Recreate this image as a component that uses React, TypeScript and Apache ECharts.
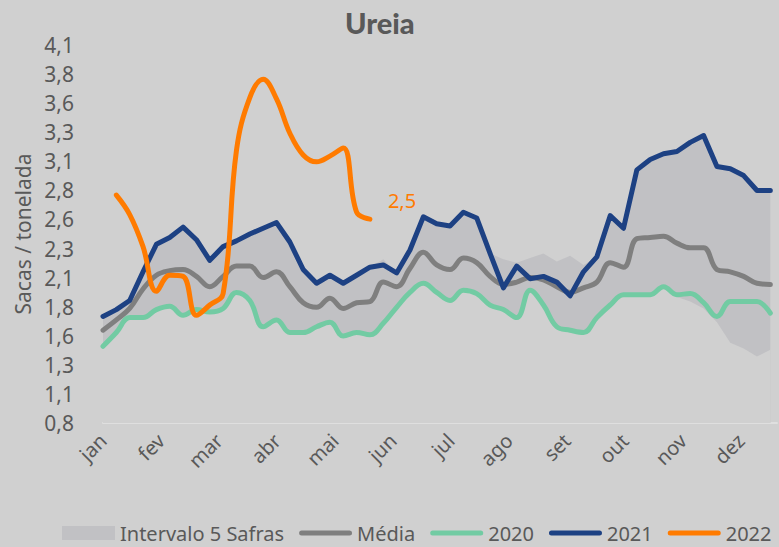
import React, { useEffect, useRef } from "react";
import * as echarts from "echarts";

const months = ["jan", "fev", "mar", "abr", "mai", "jun", "jul", "ago", "set", "out", "nov", "dez"];

const media = [1.61, 1.70, 1.80, 1.97, 2.09, 2.13, 2.14, 2.08, 1.99, 2.08, 2.17, 2.17, 2.07, 2.12, 1.99, 1.85, 1.81, 1.89, 1.80, 1.85, 1.86, 2.03, 1.99, 2.15, 2.29, 2.18, 2.14, 2.24, 2.20, 2.08, 2.01, 2.03, 2.07, 2.05, 1.99, 1.94, 1.98, 2.03, 2.20, 2.16, 2.41, 2.42, 2.43, 2.37, 2.33, 2.33, 2.14, 2.12, 2.08, 2.02, 2.01];

const s2020 = [1.47, 1.59, 1.72, 1.72, 1.79, 1.82, 1.74, 1.79, 1.77, 1.80, 1.94, 1.87, 1.64, 1.70, 1.59, 1.59, 1.64, 1.68, 1.56, 1.59, 1.57, 1.67, 1.81, 1.94, 2.02, 1.94, 1.87, 1.96, 1.93, 1.83, 1.79, 1.72, 1.96, 1.83, 1.64, 1.61, 1.59, 1.72, 1.83, 1.92, 1.92, 1.92, 1.99, 1.92, 1.93, 1.85, 1.73, 1.86, 1.86, 1.86, 1.76];

const s2021 = [1.73, 1.79, 1.87, 2.12, 2.36, 2.42, 2.51, 2.40, 2.22, 2.34, 2.39, 2.45, 2.50, 2.55, 2.38, 2.14, 2.02, 2.09, 2.02, 2.09, 2.16, 2.18, 2.11, 2.31, 2.60, 2.54, 2.52, 2.64, 2.59, 2.28, 1.98, 2.17, 2.06, 2.08, 2.03, 1.91, 2.12, 2.25, 2.61, 2.50, 3.01, 3.10, 3.15, 3.17, 3.25, 3.31, 3.04, 3.02, 2.96, 2.83, 2.83];

const s2022Start = 1;
const s2022 = [2.79, 2.62, 2.34, 1.95, 2.09, 2.08, 1.74, 1.83, 1.93, 3.18, 3.64, 3.80, 3.63, 3.33, 3.14, 3.08, 3.13, 3.20, 2.64, 2.58];

const bandMax = [1.73, 1.79, 1.87, 2.12, 2.36, 2.42, 2.51, 2.40, 2.22, 2.34, 2.39, 2.45, 2.50, 2.55, 2.38, 2.14, 2.02, 2.09, 2.02, 2.09, 2.16, 2.23, 2.11, 2.31, 2.60, 2.54, 2.52, 2.64, 2.59, 2.28, 2.23, 2.20, 2.24, 2.28, 2.21, 2.26, 2.18, 2.25, 2.61, 2.50, 3.01, 3.10, 3.15, 3.17, 3.25, 3.31, 3.04, 3.02, 2.96, 2.83, 2.83];

const bandMin = [1.47, 1.59, 1.72, 1.72, 1.79, 1.82, 1.74, 1.79, 1.77, 1.80, 1.94, 1.87, 1.64, 1.70, 1.59, 1.59, 1.64, 1.68, 1.56, 1.59, 1.57, 1.67, 1.81, 1.94, 2.02, 1.94, 1.87, 1.96, 1.93, 1.83, 1.79, 1.72, 1.96, 1.83, 1.64, 1.61, 1.59, 1.72, 1.83, 1.92, 1.92, 1.92, 1.99, 1.90, 1.86, 1.80, 1.68, 1.50, 1.45, 1.38, 1.44];

const Y_MIN = 0.8;
const Y_TOP = 4.1;
const Y_STEPS = 13;
const WEEKS_PER_MONTH = 52.14 / 12;
const X_MAX = 50.5;

const FONT = "'Noto Sans', 'Open Sans', sans-serif";
const TEXT = "#595959";
const BG = "#d0d0d0";
const BAND = "#c1c1c4";

const LINE_ICON = "path://M2.5,0H50.5A2.5,2.5,0,0,1,50.5,5H2.5A2.5,2.5,0,0,1,2.5,0Z";
const RECT_ICON = "path://M0,0H53V14H0Z";

export default function App() {
  const ref = useRef<HTMLDivElement>(null);

  useEffect(() => {
    document.body.style.margin = "0";
    document.body.style.background = BG;
    if (!ref.current) return;
    const chart = echarts.init(ref.current, undefined, { renderer: "svg" });

    const yInterval = (Y_TOP - Y_MIN) / Y_STEPS;
    let yMax = Y_MIN;
    for (let k = 0; k < Y_STEPS; k++) yMax = yMax + yInterval;

    const pairs = (arr: number[], start = 0) => arr.map((v, i) => [i + start, v]);

    const lineSeries = (name: string, data: number[][], color: string, smooth: number | boolean, extra: any = {}) => ({
      name,
      type: "line",
      data,
      smooth,
      symbol: "none",
      showSymbol: false,
      color,
      lineStyle: { color, width: 5, cap: "round", join: "round" },
      z: 3,
      ...extra,
    });

    chart.setOption({
      animation: false,
      backgroundColor: BG,
      title: {
        text: "Ureia",
        left: 340,
        top: 3,
        textStyle: { fontFamily: "Lato, 'Noto Sans', sans-serif", fontWeight: 900, fontSize: 29, color: TEXT },
      },
      grid: { left: 103, right: 2, top: 45, bottom: 124, containLabel: false },
      legend: {
        left: 57,
        top: 518,
        width: 722,
        itemWidth: 53,
        itemHeight: 14,
        itemGap: 15,
        symbolKeepAspect: true,
        textStyle: { fontFamily: FONT, fontSize: 20, color: TEXT },
        data: [
          { name: "Intervalo 5 Safras", icon: RECT_ICON },
          { name: "Média", icon: LINE_ICON },
          { name: "2020", icon: LINE_ICON },
          { name: "2021", icon: LINE_ICON },
          { name: "2022", icon: LINE_ICON },
        ],
      },
      xAxis: {
        type: "value",
        min: 0,
        max: X_MAX,
        interval: WEEKS_PER_MONTH,
        axisLine: { show: true, lineStyle: { color: "#dfdfdf", width: 2 } },
        axisTick: { show: false },
        splitLine: { show: false },
        axisLabel: {
          rotate: 45,
          margin: 14,
          fontFamily: FONT,
          fontSize: 20,
          color: TEXT,
          showMaxLabel: false,
          formatter: (v: number) => {
            const k = Math.round(v / WEEKS_PER_MONTH);
            return Math.abs(v - k * WEEKS_PER_MONTH) < 1e-6 && k < months.length ? months[k] : "";
          },
        },
      },
      yAxis: {
        type: "value",
        min: Y_MIN,
        max: yMax,
        interval: yInterval,
        name: "Sacas / tonelada",
        nameLocation: "middle",
        nameGap: 70,
        nameTextStyle: { fontFamily: FONT, fontSize: 21, color: TEXT },
        axisLine: { show: false },
        axisTick: { show: false },
        splitLine: { show: false },
        axisLabel: {
          margin: 29,
          fontFamily: FONT,
          fontSize: 21,
          color: TEXT,
          formatter: (v: number) => v.toFixed(1).replace(".", ","),
        },
      },
      series: [
        {
          name: "Intervalo 5 Safras",
          type: "line",
          data: pairs(bandMax),
          symbol: "none",
          showSymbol: false,
          color: BAND,
          lineStyle: { width: 0, opacity: 0 },
          areaStyle: { color: BAND, opacity: 1, origin: "start" },
          silent: true,
          z: 1,
        },
        {
          name: "_bandLow",
          type: "line",
          data: pairs(bandMin),
          symbol: "none",
          showSymbol: false,
          color: BG,
          lineStyle: { width: 0, opacity: 0 },
          areaStyle: { color: BG, opacity: 1, origin: "start" },
          silent: true,
          z: 2,
        },
        lineSeries("Média", pairs(media), "#7f7f7f", 0.4),
        lineSeries("2020", pairs(s2020), "#72cba3", 0.4),
        lineSeries("2021", pairs(s2021), "#1d4183", false),
        lineSeries("2022", pairs(s2022, s2022Start), "#ff7b00", 0.4, {
          endLabel: {
            show: true,
            color: "#ff7b00",
            fontFamily: FONT,
            fontSize: 20,
            distance: 18,
            offset: [0, -19],
            formatter: (p: any) => (Math.floor(p.value[1] * 10) / 10).toFixed(1).replace(".", ","),
          },
        }),
      ],
    });

    return () => chart.dispose();
  }, []);

  return <div ref={ref} style={{ position: "fixed", left: 0, top: 0, width: 779, height: 547 }} />;
}
